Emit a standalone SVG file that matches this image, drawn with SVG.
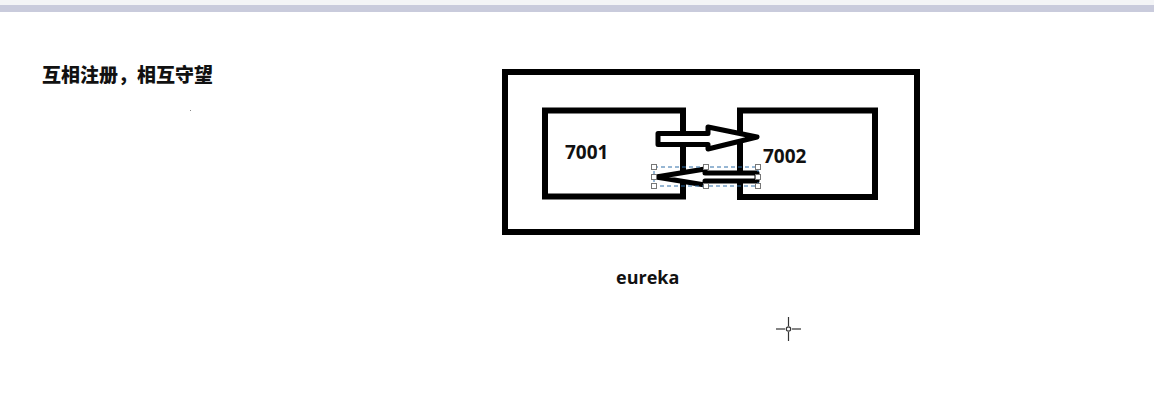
<svg xmlns="http://www.w3.org/2000/svg" width="1154" height="420" viewBox="0 0 1154 420">
  <style>
    .box { fill: none; stroke: #000; stroke-width: 6; }
    .arrow { fill: #fff; stroke: #000; stroke-width: 5; stroke-linejoin: round; }
    .lbl { font-family: "Open Sans", "Noto Sans", sans-serif; font-weight: bold; fill: #111; }
    .cjk { font-family: "Noto Sans CJK SC", sans-serif; font-weight: 900; fill: #111; }
    .handle { fill: #fff; stroke: #777; stroke-width: 1; }
    .sel { fill: none; stroke: #2f6fa8; stroke-width: 1; stroke-dasharray: 4 3; }
  </style>
  <rect x="0" y="0" width="1154" height="420" fill="#fff"/>
  <rect x="0" y="0" width="1154" height="5" fill="#f3f4f6"/>
  <rect x="0" y="5" width="1154" height="7" fill="#c9cbdc"/>

  <g id="title">
    <text class="cjk" x="42" y="82" font-size="19">互相注册，相互守望</text>
    <rect x="190" y="110" width="1" height="1" fill="#888"/>
  </g>

  <g id="eureka">
    <rect class="box" x="505" y="72" width="412" height="160"/>
    <text class="lbl" x="616" y="284" font-size="18">eureka</text>
  </g>

  <g id="node7001">
    <rect class="box" x="545" y="110.5" width="138" height="86"/>
    <text class="lbl" x="565" y="159" font-size="19">7001</text>
  </g>

  <g id="node7002">
    <rect class="box" x="740" y="110.5" width="135" height="86.5"/>
    <text class="lbl" x="763" y="163" font-size="19">7002</text>
  </g>

  <g id="connectors">
    <polygon class="arrow" points="658,133.5 708,133.5 708,127 757,137 708,149 708,144.5 658,144.5"/>
    <polygon class="arrow" points="757,173 705,173 705,169 656,177 705,185 705,181 757,181"/>
  </g>

  <g id="selection">
    <rect class="sel" x="654" y="167" width="104" height="19"/>
    <rect class="handle" x="651.5" y="164.5" width="5" height="5"/>
    <rect class="handle" x="703.5" y="164.5" width="5" height="5"/>
    <rect class="handle" x="755.5" y="164.5" width="5" height="5"/>
    <rect class="handle" x="651.5" y="174.5" width="5" height="5"/>
    <rect class="handle" x="755.5" y="174.5" width="5" height="5"/>
    <rect class="handle" x="651.5" y="183.5" width="5" height="5"/>
    <rect class="handle" x="703.5" y="183.5" width="5" height="5"/>
    <rect class="handle" x="755.5" y="183.5" width="5" height="5"/>
  </g>

  <g id="cursor" stroke="#333" stroke-width="1.2" fill="none">
    <line x1="788.5" y1="317" x2="788.5" y2="326"/>
    <line x1="788.5" y1="332" x2="788.5" y2="341"/>
    <line x1="776" y1="329" x2="785" y2="329"/>
    <line x1="792" y1="329" x2="801" y2="329"/>
    <circle cx="788.5" cy="329" r="2.2"/>
  </g>
</svg>
